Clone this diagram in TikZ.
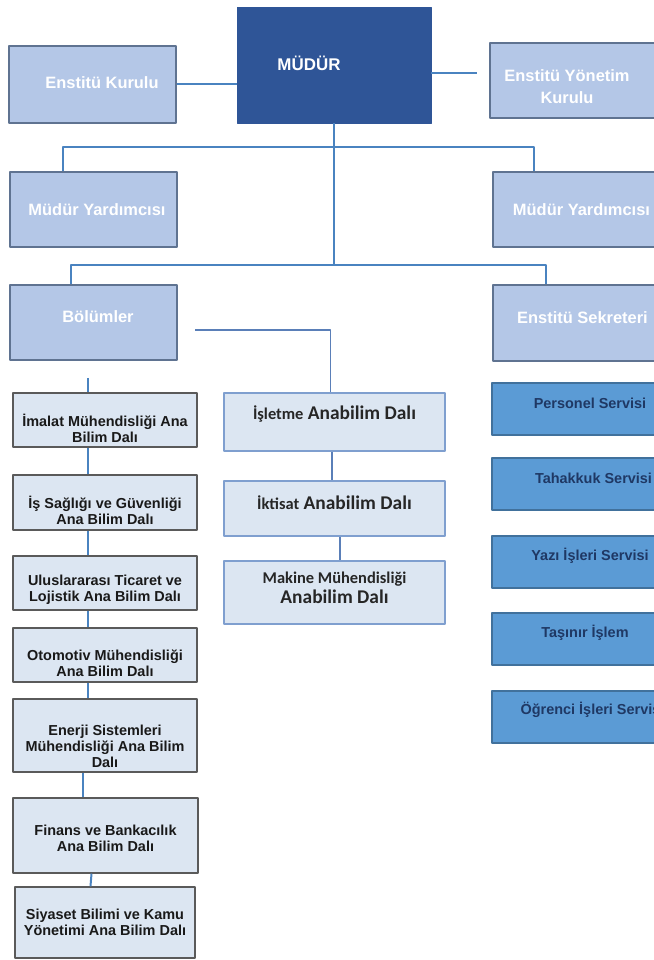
\documentclass[tikz,border=0pt]{standalone}
\usepackage{fontspec}
\setmainfont{Liberation Sans}
\newfontfamily\calibrifont{Carlito}
\definecolor{headfill}{HTML}{2F5597}
\definecolor{unitfill}{HTML}{B4C7E7}
\definecolor{unitline}{HTML}{5F7391}
\definecolor{deptfill}{HTML}{DCE6F2}
\definecolor{deptline}{HTML}{5A5A5A}
\definecolor{analine}{HTML}{7F9FCF}
\definecolor{servfill}{HTML}{5B9BD5}
\definecolor{servline}{HTML}{41719C}
\definecolor{servtextc}{HTML}{1F3864}
\definecolor{linkblue}{HTML}{4A83C0}
\definecolor{linkdark}{HTML}{5A7FB8}
\tikzset{
  headbox/.style={draw=headfill,fill=headfill,minimum width=194bp,minimum height=116bp},
  headtext/.style={text=white,font=\bfseries\fontsize{17}{20}\selectfont},
  unitbox/.style={draw=unitline,fill=unitfill,line width=1.3bp},
  unittext/.style={text=white,align=center,font=\bfseries\fontsize{16.5}{22}\selectfont},
  deptbox/.style={draw=deptline,fill=deptfill,line width=1.4bp,minimum width=184bp},
  depttext/.style={text=black!90,align=center,font=\bfseries\fontsize{14.5}{16}\selectfont},
  anabox/.style={draw=analine,fill=deptfill,line width=1.3bp,minimum width=221bp},
  anatext/.style={text=black!85,align=center,font=\calibrifont\bfseries\fontsize{19.5}{20}\selectfont},
  servbox/.style={draw=servline,fill=servfill,line width=1.3bp,minimum width=196bp,minimum height=52bp},
  servtext/.style={text=servtextc,font=\bfseries\fontsize{14.5}{17}\selectfont},
  link/.style={draw=linkblue,line width=2bp},
  thinlink/.style={draw=linkdark,line width=1.2bp},
}
\newcommand{\anasmall}{\fontsize{16.5}{20}\selectfont}
\begin{document}
\begin{tikzpicture}[line join=bevel]
\useasboundingbox (0bp,0bp) rectangle (654bp,960bp);
\clip (0bp,0bp) rectangle (654bp,960bp);
%%
\node (node_mudur) at (334bp,895bp) [headbox,label={[headtext,xshift=-25bp,yshift=2bp]center:MÜDÜR}] {};
  \node (node_kurulu) at (92.5bp,875.5bp) [unitbox,minimum width=167bp,minimum height=77bp,label={[unittext,xshift=9.5bp,yshift=1.5bp]center:Enstitü Kurulu}] {};
  \node (node_yonetim) at (595bp,879.5bp) [unitbox,minimum width=210bp,minimum height=75bp,label={[unittext,xshift=-28bp,yshift=-6.5bp]center:Enstitü Yönetim\\Kurulu}] {};
  \node (node_myard_l) at (93.5bp,750.5bp) [unitbox,minimum width=167bp,minimum height=75bp,label={[unittext,xshift=3.5bp]center:Müdür Yardımcısı}] {};
  \node (node_myard_r) at (596.5bp,750.5bp) [unitbox,minimum width=207bp,minimum height=75bp,label={[unittext,xshift=-15bp]center:Müdür Yardımcısı}] {};
  \node (node_bolumler) at (93.5bp,637.5bp) [unitbox,minimum width=167bp,minimum height=75bp,label={[unittext,xshift=4.5bp,yshift=5.5bp]center:Bölümler}] {};
  \node (node_sekreter) at (596.5bp,637bp) [unitbox,minimum width=207bp,minimum height=76bp,label={[unittext,xshift=-14bp,yshift=5bp]center:Enstitü Sekreteri}] {};
%
  \node (node_imalat) at (105bp,540bp) [deptbox,minimum height=54bp,label={[depttext,yshift=-8bp]center:İmalat Mühendisliği Ana\\Bilim Dalı}] {};
  \node (node_isg) at (105bp,457.5bp) [deptbox,minimum height=55bp,label={[depttext,yshift=-7.5bp]center:İş Sağlığı ve Güvenliği\\Ana Bilim Dalı}] {};
  \node (node_ulus) at (105bp,377bp) [deptbox,minimum height=54bp,label={[depttext,yshift=-7bp]center:Uluslararası Ticaret ve\\Lojistik Ana Bilim Dalı}] {};
  \node (node_otomotiv) at (105bp,305bp) [deptbox,minimum height=54bp,label={[depttext,yshift=-8bp]center:Otomotiv Mühendisliği\\Ana Bilim Dalı}] {};
  \node (node_enerji) at (105bp,224.5bp) [deptbox,minimum height=73bp,label={[depttext,yshift=-10.5bp]center:Enerji Sistemleri\\Mühendisliği Ana Bilim\\Dalı}] {};
  \node (node_finans) at (105.5bp,124.5bp) [deptbox,minimum width=185bp,minimum height=75bp,label={[depttext,yshift=-2.5bp]center:Finans ve Bankacılık\\Ana Bilim Dalı}] {};
  \node (node_siyaset) at (105bp,37.5bp) [deptbox,minimum width=180bp,minimum height=71bp,label={[depttext]center:Siyaset Bilimi ve Kamu\\Yönetimi Ana Bilim Dalı}] {};
%
  \node (node_isletme) at (334.5bp,538bp) [anabox,minimum height=58bp,label={[anatext,yshift=8bp]center:{\anasmall İşletme} Anabilim Dalı}] {};
  \node (node_iktisat) at (334.5bp,451.5bp) [anabox,minimum height=55bp,label={[anatext,yshift=5.5bp]center:{\anasmall İktisat} Anabilim Dalı}] {};
  \node (node_makine) at (334.5bp,367.5bp) [anabox,minimum height=63bp,label={[anatext,yshift=4.5bp]center:{\anasmall Makine Mühendisliği}\\Anabilim Dalı}] {};
%
  \node (node_personel) at (590bp,551bp) [servbox,label={[servtext,yshift=6bp]center:Personel Servisi}] {};
  \node (node_tahakkuk) at (590bp,476bp) [servbox,label={[servtext,xshift=3.5bp,yshift=6bp]center:Tahakkuk Servisi}] {};
  \node (node_yazi) at (590bp,398bp) [servbox,label={[servtext,yshift=6bp]center:Yazı İşleri Servisi}] {};
  \node (node_tasinir) at (590bp,321bp) [servbox,label={[servtext,xshift=-5bp,yshift=6bp]center:Taşınır İşlem}] {};
  \node (node_ogrenci) at (590bp,243bp) [servbox,label={[servtext,xshift=2.5bp,yshift=7bp]center:Öğrenci İşleri Servisi}] {};
%
  \coordinate (bus_a) at (63bp,813bp);
  \coordinate (bus_b) at (534bp,813bp);
  \coordinate (bus_c) at (71bp,695bp);
  \coordinate (bus_d) at (546bp,695bp);
  \coordinate (yon_end) at (477bp,887bp);
  \coordinate (bol_end) at (195bp,630bp);
  \coordinate (bol_drop) at (88bp,582bp);
  \draw [link] (node_kurulu) -- (node_mudur.west |- node_kurulu);
  \draw [link] (node_mudur.east |- yon_end) -- (yon_end);
  \draw [link] (node_mudur) -- (node_mudur |- bus_c);
  \draw [link] (node_myard_l.north -| bus_a) |- (bus_b) -- (node_myard_r.north -| bus_b);
  \draw [link] (node_bolumler.north -| bus_c) |- (bus_d) -- (node_sekreter.north -| bus_d);
  \draw [thinlink] (bol_end) -| ([xshift=-4bp]node_isletme.north);
  \draw [thinlink] ([xshift=-2.5bp]node_isletme.south) -- ([xshift=-2.5bp]node_iktisat.north);
  \draw [thinlink] ([xshift=5.5bp]node_iktisat.south) -- ([xshift=5.5bp]node_makine.north);
  \draw [link] (bol_drop) -- (bol_drop |- node_imalat.north);
  \draw [link] ([xshift=-17bp]node_imalat.south) -- ([xshift=-17bp]node_isg.north);
  \draw [link] ([xshift=-17bp]node_isg.south) -- ([xshift=-17bp]node_ulus.north);
  \draw [link] ([xshift=-17bp]node_ulus.south) -- ([xshift=-17bp]node_otomotiv.north);
  \draw [link] ([xshift=-17bp]node_otomotiv.south) -- ([xshift=-17bp]node_enerji.north);
  \draw [link] ([xshift=-22bp]node_enerji.south) -- ([xshift=-22.5bp]node_finans.north);
  \draw [link] ([xshift=-14bp]node_finans.south) -- ([xshift=-14.5bp]node_siyaset.north);
%
\end{tikzpicture}
\end{document}
